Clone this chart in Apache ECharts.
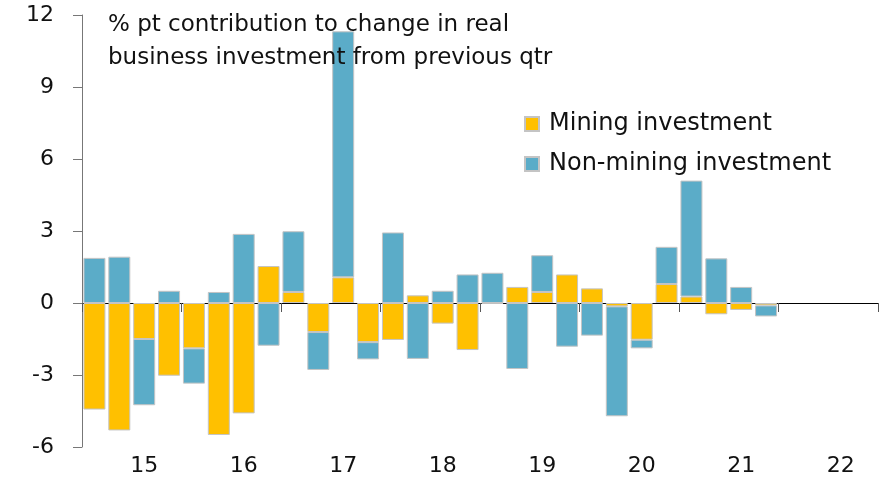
<!DOCTYPE html>
<html>
<head>
<meta charset="utf-8">
<script src="https://cdn.jsdelivr.net/npm/echarts@6/dist/echarts.min.js"></script>
<style>
  html, body { margin: 0; padding: 0; background: #fff; }
  #chart { width: 895px; height: 501px; }
</style>
</head>
<body>
<div id="chart"></div>
<script>
// quarters, Sep-2014 .. Jun-2022 (last 4 empty)
const quarters = []
for (let y = 2014; y <= 2022; y++) {
  for (const m of ['Mar', 'Jun', 'Sep', 'Dec']) {
    quarters.push(m + '-' + y)
  }
}
const categories = quarters.slice(2, 34)

// year labels, shown on every 4th quarter
const yearLabels = ['15', '16', '17', '18', '19', '20', '21', '22']

const mining = [
  -4.44, -5.31, -1.5, -3.03, -1.89, -5.5, -4.6, 1.54, 0.46, -1.21,
  1.07, -1.63, -1.54, 0.32, -0.86, -1.96, -0.03, 0.67, 0.46, 1.19,
  0.61, -0.14, -1.53, 0.79, 0.27, -0.47, -0.29, -0.1
]
const nonMining = [
  1.88, 1.93, -2.76, 0.51, -1.47, 0.46, 2.88, -1.78, 2.53, -1.58,
  10.25, -0.72, 2.94, -2.33, 0.51, 1.19, 1.26, -2.75, 1.53, -1.82,
  -1.36, -4.58, -0.36, 1.55, 4.83, 1.86, 0.67, -0.46
]

const yTicks = [-6, -3, 0, 3, 6, 9, 12]

const font = 'DejaVu Sans'
const chart = echarts.init(document.getElementById('chart'))

const barStyle = (color) => ({
  color: color,
  borderColor: '#c4c4c4',
  borderWidth: 1
})

chart.setOption({
  animation: false,
  textStyle: { fontFamily: font },
  title: {
    text: '% pt contribution to change in real\nbusiness investment from previous qtr',
    left: 103,
    top: 4,
    textStyle: { fontFamily: font, fontSize: 23, fontWeight: 'normal', color: '#111', lineHeight: 33 }
  },
  legend: {
    orient: 'vertical',
    left: 519,
    top: 107,
    itemWidth: 14,
    itemHeight: 14,
    itemGap: 16,
    icon: 'rect',
    textStyle: { fontFamily: font, fontSize: 24, color: '#111', padding: [0, 0, 0, 5] },
    data: ['Mining investment', 'Non-mining investment']
  },
  grid: { left: 82, right: 17, top: 15, bottom: 54 },
  xAxis: [
    {
      type: 'category',
      data: categories,
      axisLine: { onZero: true, lineStyle: { color: '#000', width: 1 } },
      axisTick: {
        show: true,
        length: 9,
        interval: (i) => i % 4 === 0,
        lineStyle: { color: '#555' }
      },
      axisLabel: { show: false }
    },
    {
      type: 'category',
      data: categories,
      position: 'bottom',
      axisLine: { show: false, onZero: false },
      axisTick: { show: false },
      axisLabel: {
        interval: (i) => i % 4 === 2,
        formatter: (v, i) => yearLabels[Math.floor(i / 4)],
        fontFamily: font,
        fontSize: 22,
        color: '#111',
        margin: 8
      }
    }
  ],
  yAxis: {
    type: 'value',
    min: yTicks[0],
    max: yTicks[yTicks.length - 1],
    interval: 3,
    splitLine: { show: false },
    axisLine: { show: true, lineStyle: { color: '#777' } },
    axisTick: { show: true, length: 9, lineStyle: { color: '#777' } },
    axisLabel: { fontFamily: font, fontSize: 22, color: '#111', margin: 28 }
  },
  series: [
    {
      name: 'Mining investment',
      type: 'bar',
      stack: 'total',
      barWidth: 22,
      data: mining,
      itemStyle: barStyle('#ffc000')
    },
    {
      name: 'Non-mining investment',
      type: 'bar',
      stack: 'total',
      barWidth: 22,
      data: nonMining,
      itemStyle: barStyle('#5bacc8')
    }
  ]
})
</script>
</body>
</html>
